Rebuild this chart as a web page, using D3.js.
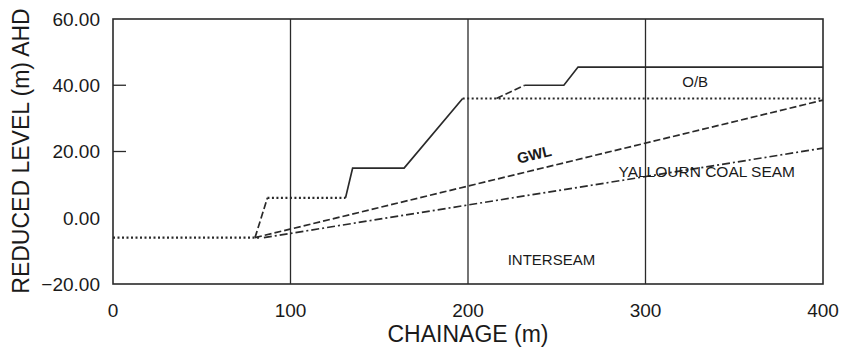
<!DOCTYPE html>
<html>
<head>
<meta charset="utf-8">
<script src="https://cdn.jsdelivr.net/npm/d3@7"></script>
<style>
  body { margin: 0; background: #fff; }
  text { font-family: "Liberation Sans", Arial, sans-serif; fill: #1a1a1a; }
</style>
</head>
<body>
<div id="chart"></div>
<script>
// chainage (m) / reduced level (m AHD) for each drawn line
const floorX = [0, 83];
const floorY = [-6, -6];
const batterX = [80, 87];
const batterY = [-6, 6];
const benchX = [87, 131];
const benchY = [6, 6];
const faceX = [131, 135, 164, 197];
const faceY = [6, 15, 15, 36];
const coalTopX = [197, 400];
const coalTopY = [36, 36];
const obBatterX = [216, 232];
const obBatterY = [36, 40];
const surfaceX = [232, 254, 262, 400];
const surfaceY = [40, 40, 45.5, 45.5];
const gwlX = [80, 400];
const gwlY = [-6, 35.5];
const seamBaseX = [85, 400];
const seamBaseY = [-6, 21];

const xTicks = [0, 100, 200, 300, 400];
const yTicks = [60, 40, 20, 0, -20];
const innerTicks = [40, 20];
const gridX = [100, 200, 300];

const width = 844, height = 352;
const margin = { top: 19, right: 21, bottom: 68, left: 113 };

const svg = d3.select("#chart").append("svg")
  .attr("width", width)
  .attr("height", height);

const x = d3.scaleLinear().domain([0, 400]).range([margin.left, width - margin.right]);
const y = d3.scaleLinear().domain([-20, 60]).range([height - margin.bottom, margin.top]);

const ink = "#2a2a2a";

// frame
svg.append("rect")
  .attr("x", x(0)).attr("y", y(60))
  .attr("width", x(400) - x(0)).attr("height", y(-20) - y(60))
  .attr("fill", "none").attr("stroke", ink).attr("stroke-width", 1.6);

// vertical grid
svg.selectAll("line.grid").data(gridX).enter().append("line")
  .attr("x1", d => x(d)).attr("x2", d => x(d))
  .attr("y1", y(60)).attr("y2", y(-20))
  .attr("stroke", ink).attr("stroke-width", 1.3);

// inward ticks on the level axis
svg.selectAll("line.tick").data(innerTicks).enter().append("line")
  .attr("x1", x(0)).attr("x2", x(0) + 13)
  .attr("y1", d => y(d)).attr("y2", d => y(d))
  .attr("stroke", ink).attr("stroke-width", 1.3);

// tick labels
svg.selectAll("text.yt").data(yTicks).enter().append("text")
  .attr("x", 100).attr("y", d => y(d)).attr("dy", "0.36em")
  .attr("text-anchor", "end").style("font-size", "19px")
  .text(d3.format(".2f"));

svg.selectAll("text.xt").data(xTicks).enter().append("text")
  .attr("x", d => x(d)).attr("y", 317)
  .attr("text-anchor", "middle").style("font-size", "19px")
  .text(d => d);

// axis titles
svg.append("text")
  .attr("x", 468).attr("y", 342)
  .attr("text-anchor", "middle").style("font-size", "23px")
  .text("CHAINAGE (m)");

svg.append("text")
  .attr("transform", "translate(29," + 151 + ") rotate(-90)")
  .attr("text-anchor", "middle").style("font-size", "23px")
  .text("REDUCED LEVEL (m) AHD");

// profile lines
const line = d3.line().x(d => x(d[0])).y(d => y(d[1]));
const dotted = "2,2.5", dashed = "7,3", dashDot = "8,3,2,3";

const lines = [
  [floorX, floorY, dotted],
  [batterX, batterY, dashed],
  [benchX, benchY, dotted],
  [faceX, faceY, null],
  [coalTopX, coalTopY, dotted],
  [obBatterX, obBatterY, dashed],
  [surfaceX, surfaceY, null],
  [gwlX, gwlY, dashed],
  [seamBaseX, seamBaseY, dashDot]
];

lines.forEach(([xs, ys, dash]) => {
  svg.append("path")
    .datum(xs.map((v, i) => [v, ys[i]]))
    .attr("d", line)
    .attr("fill", "none")
    .attr("stroke", ink)
    .attr("stroke-width", dash === dotted ? 2.2 : 1.7)
    .attr("stroke-dasharray", dash);
});

// region labels
const gwlAngle = Math.atan2(y(gwlY[1]) - y(gwlY[0]), x(gwlX[1]) - x(gwlX[0])) * 180 / Math.PI;

svg.append("text")
  .attr("transform", "translate(" + x(238) + "," + (y(14.5) - 10) + ") rotate(" + gwlAngle + ")")
  .attr("text-anchor", "middle").style("font-size", "15px").style("font-weight", "bold")
  .text("GWL");

svg.append("text")
  .attr("x", x(328)).attr("y", 87)
  .attr("text-anchor", "middle").style("font-size", "15px")
  .text("O/B");

svg.append("text")
  .attr("x", x(334.5)).attr("y", 177)
  .attr("text-anchor", "middle").style("font-size", "15.5px")
  .text("YALLOURN COAL SEAM");

svg.append("text")
  .attr("x", x(247)).attr("y", 265)
  .attr("text-anchor", "middle").style("font-size", "15px")
  .text("INTERSEAM");
</script>
</body>
</html>
